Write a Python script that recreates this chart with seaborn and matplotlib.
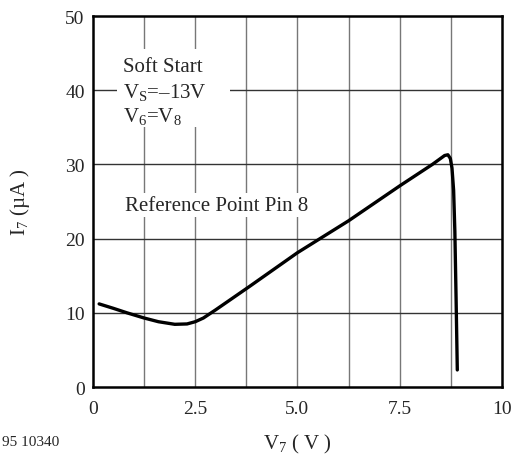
import numpy as np
import pandas as pd
import matplotlib
matplotlib.use('Agg')
import matplotlib.pyplot as plt
import seaborn as sns
from matplotlib.patches import Rectangle

# curve
v7 = [0.15, 0.5, 0.83, 1.25, 1.6, 2.0, 2.3, 2.5, 2.7, 3.0, 3.84, 5.0, 6.25, 7.5,
      8.3, 8.5, 8.6, 8.68, 8.74, 8.78, 8.82, 8.85, 8.88, 8.91]
i7 = [11.2, 10.6, 10.0, 9.3, 8.8, 8.45, 8.5, 8.8, 9.3, 10.4, 13.6, 18.1, 22.4, 27.1,
      30.0, 30.8, 31.2, 31.3, 30.8, 29.5, 26.5, 21.0, 12.0, 2.3]
x_ticks = [0, 1.25, 2.5, 3.75, 5.0, 6.25, 7.5, 8.75, 10]
x_labels = ['0', '', '2.5', '', '5.0', '', '7.5', '', '10']
y_ticks = [0, 10, 20, 30, 40, 50]

df = pd.DataFrame({'V7': v7, 'I7': i7})

sns.set_style('white')
plt.rcParams['font.family'] = ['Liberation Serif', 'DejaVu Serif']
plt.rcParams['mathtext.fontset'] = 'custom'
plt.rcParams['mathtext.rm'] = 'Liberation Serif'
plt.rcParams['mathtext.it'] = 'Liberation Serif'

fig = plt.figure(figsize=(5.13, 4.6), dpi=100)
ax = fig.add_axes([0.1813, 0.1565, 0.797, 0.8065])

sns.lineplot(data=df, x='V7', y='I7', ax=ax, color='black', lw=2.4,
             sort=False, estimator=None)

ax.set_xlim(0, 10)
ax.set_ylim(0, 50)
ax.set_xticks(x_ticks)
ax.set_xticklabels(x_labels)
ax.set_yticks(y_ticks)
for x in x_ticks[1:-1]:
    ax.axvline(x, color='#777777', lw=1, zorder=0)
for y in y_ticks[1:-1]:
    ax.axhline(y, color='#333333', lw=1, zorder=0)

ax.tick_params(length=0, labelsize=14)
ax.tick_params(axis='x', pad=9)
ax.tick_params(axis='y', pad=6)
for s in ax.spines.values():
    s.set_visible(True)
    s.set_color('black')
    s.set_linewidth(1.8)

ax.set_xlabel('V$_7$ ( V )', fontsize=15, labelpad=11)
ax.set_ylabel('I$_7$ (µA )', fontsize=15, labelpad=24)

# white block behind the conditions text
ax.add_patch(Rectangle((0.59, 35.0), 2.76, 10.5, facecolor='white',
                       edgecolor='none', zorder=2))
ax.text(0.73, 42.6, 'Soft Start', fontsize=15, va='baseline', zorder=3)
ax.text(0.73, 39.05, 'V$_\\mathrm{S}$=–13V', fontsize=15, va='baseline', zorder=3)
ax.text(0.73, 35.9, 'V$_6$=V$_8$', fontsize=15, va='baseline', zorder=3)
ax.text(0.78, 23.9, 'Reference Point Pin 8', fontsize=15, va='baseline', ha='left',
        zorder=3, bbox=dict(facecolor='white', edgecolor='none', pad=2))
fig.text(0.004, 0.037, '95 10340', fontsize=11, va='center', ha='left')

plt.savefig('out.png', dpi=100)
